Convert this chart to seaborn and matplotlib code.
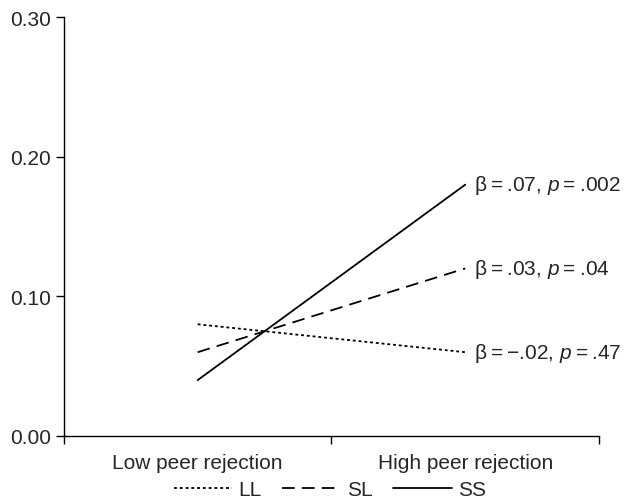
import matplotlib
matplotlib.use("Agg")
import matplotlib.pyplot as plt
import seaborn as sns
import pandas as pd

categories = ["Low peer rejection", "High peer rejection"]
groups = ["LL", "SL", "SS"]
LL = [0.08, 0.06]
SL = [0.06, 0.12]
SS = [0.04, 0.18]
T = "\u2009"
annotations = [f"β{T}={T}\u2212.02, $\\it{{p}}${T}={T}.47",
               f"β{T}={T}.03, $\\it{{p}}${T}={T}.04",
               f"β{T}={T}.07, $\\it{{p}}${T}={T}.002"]
yticks = [0.00, 0.10, 0.20, 0.30]

sns.set_theme(style="white")
plt.rcParams['font.family'] = ['Liberation Sans', 'DejaVu Sans']
plt.rcParams['mathtext.fontset'] = 'custom'
plt.rcParams['mathtext.it'] = 'Liberation Sans:italic'
plt.rcParams['mathtext.rm'] = 'Liberation Sans'

rows = []
for g, vals in zip(groups, [LL, SL, SS]):
    for i, v in enumerate(vals):
        rows.append({"group": g, "x": i + 0.5, "value": v})
df = pd.DataFrame(rows)

fig = plt.figure(figsize=(6.26, 5.02), dpi=100)
ax = fig.add_axes([0.102, 0.1295, 0.855, 0.8345])

dashes = {"LL": (1.6, 1.6), "SL": (7, 4), "SS": ""}
sns.lineplot(data=df, x="x", y="value", style="group", style_order=groups,
             dashes=dashes, color="black", linewidth=1.3, legend=False, ax=ax)

ax.set_xlim(0, 2)
ax.set_ylim(0, 0.30)
ax.set_yticks(yticks)
ax.set_yticklabels([f"{t:.2f}" for t in yticks], fontsize=15)
ax.set_xticks([0, 1, 2])
ax.set_xticklabels([])
ax.set_xticks([0.5, 1.5], minor=True)
ax.set_xticklabels(categories, minor=True, fontsize=15)
ax.tick_params(axis="x", which="minor", length=0, pad=12)
ax.tick_params(axis="both", which="major", length=6, width=1, color="black", direction="out", left=True, bottom=True)
ax.set_xlabel("")
ax.set_ylabel("")
for s in ["top", "right"]:
    ax.spines[s].set_visible(False)
for s in ["left", "bottom"]:
    ax.spines[s].set_color("black")
    ax.spines[s].set_linewidth(1)

for txt, vals in zip(annotations, [LL, SL, SS]):
    ax.annotate(txt, xy=(1.5, vals[1]), xytext=(6, 0), textcoords="offset points",
                va="center", ha="left", fontsize=15, annotation_clip=False)

fig.legend(handles=ax.lines[:3], labels=groups, loc="center", bbox_to_anchor=(0.527, 0.022),
           ncol=3, frameon=False, fontsize=15, handlelength=2.8, handletextpad=0.3,
           columnspacing=1.0, borderpad=0)

fig.savefig("out.png", dpi=100)
